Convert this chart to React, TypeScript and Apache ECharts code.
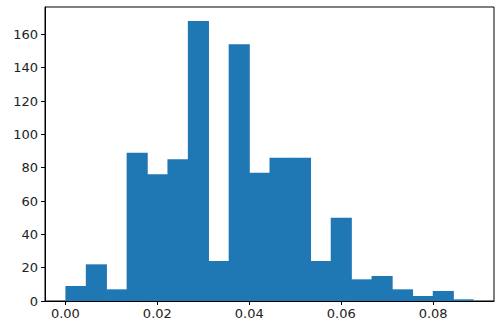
import React, { useEffect, useRef } from "react";
import * as echarts from "echarts";

const binEdges = [
  0, 0.00444, 0.00888, 0.01332, 0.01776, 0.0222, 0.02664, 0.03108, 0.03552,
  0.03996, 0.0444, 0.04884, 0.05328, 0.05772, 0.06216, 0.0666, 0.07104,
  0.07548, 0.07992, 0.08436, 0.0888,
];
const counts = [9, 22, 7, 89, 76, 85, 168, 24, 154, 77, 86, 86, 24, 50, 13, 15, 7, 3, 6, 1];
const xTicks = [0, 0.02, 0.04, 0.06, 0.08];
const yTicks = [0, 20, 40, 60, 80, 100, 120, 140, 160];

export default function App() {
  const ref = useRef<HTMLDivElement>(null);
  useEffect(() => {
    if (!ref.current) return;
    const chart = echarts.init(ref.current, null, { renderer: "svg" });
    const data = counts.map((c, i) => [binEdges[i], binEdges[i + 1], c]);
    const xMin = -0.00444;
    const xMax = 0.09324;
    const font = "DejaVu Sans";
    chart.setOption({
      animation: false,
      backgroundColor: "#ffffff",
      grid: {
        left: 45,
        top: 7,
        right: 9,
        bottom: 32,
        show: true,
        borderColor: "#000000",
        borderWidth: 1,
        backgroundColor: "transparent",
      },
      xAxis: {
        type: "value",
        min: xMin,
        max: xMax,
        splitLine: { show: false },
        axisLine: { show: true, onZero: false, lineStyle: { color: "#000", width: 1 } },
        axisTick: {
          show: true,
          length: 4,
          lineStyle: { color: "#000" },
          customValues: xTicks,
        },
        axisLabel: {
          show: true,
          color: "#222",
          fontFamily: font,
          fontSize: 13,
          margin: 6,
          customValues: xTicks,
          formatter: (v: number) => v.toFixed(2),
        },
      },
      yAxis: {
        type: "value",
        min: 0,
        max: 176.4,
        splitLine: { show: false },
        axisLine: { show: true, onZero: false, lineStyle: { color: "#000", width: 1 } },
        axisTick: {
          show: true,
          length: 4,
          lineStyle: { color: "#000" },
          customValues: yTicks,
        },
        axisLabel: {
          show: true,
          color: "#222",
          fontFamily: font,
          fontSize: 13,
          margin: 7,
          customValues: yTicks,
        },
      },
      series: [
        {
          type: "custom",
          data,
          encode: { x: [0, 1], y: 2 },
          renderItem: (params: any, api: any) => {
            const x0 = api.value(0);
            const x1 = api.value(1);
            const h = api.value(2);
            const p0 = api.coord([x0, h]);
            const p1 = api.coord([x1, 0]);
            const last = params.dataIndex === counts.length - 1;
            return {
              type: "rect",
              shape: {
                x: p0[0],
                y: p0[1],
                width: p1[0] - p0[0] + (last ? 0 : 0.7),
                height: p1[1] - p0[1],
              },
              style: { fill: "#1f77b4" },
            };
          },
        },
      ],
    });
    return () => chart.dispose();
  }, []);
  return (
    <div
      ref={ref}
      style={{ position: "fixed", left: 0, top: 0, width: 503, height: 333, background: "#fff" }}
    />
  );
}
